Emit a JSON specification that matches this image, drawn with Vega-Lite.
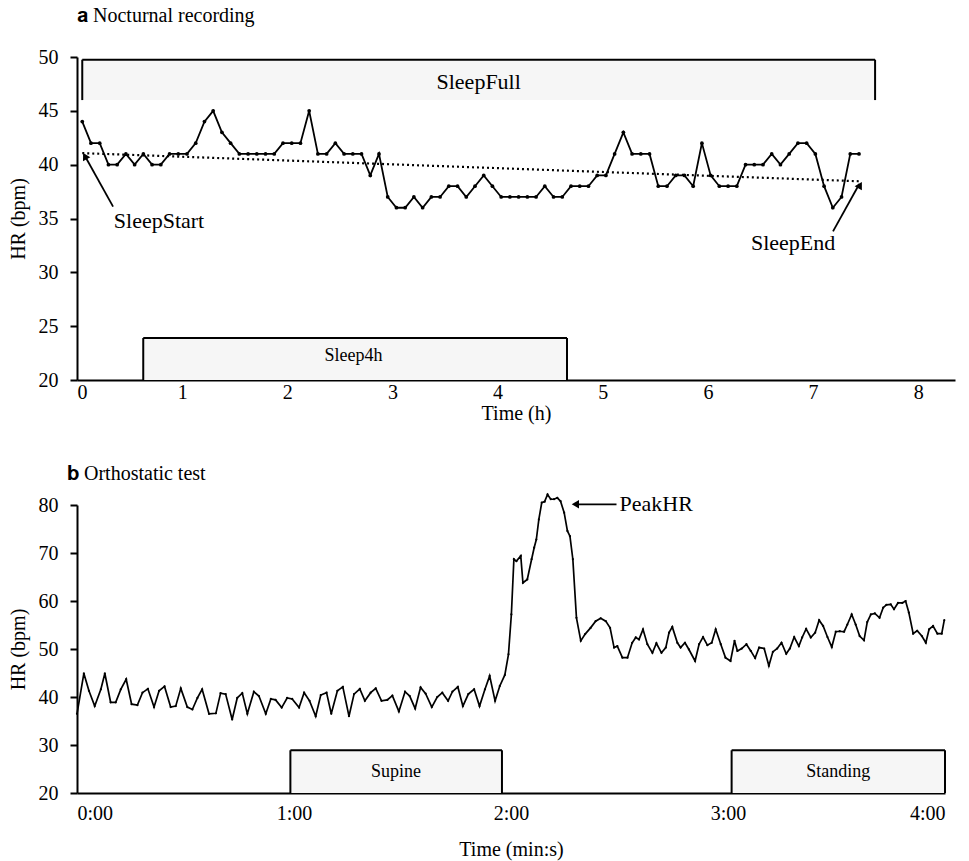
{
  "$schema": "https://vega.github.io/schema/vega-lite/v6.json",
  "background": "white",
  "padding": {"left": 8, "top": 6, "right": 5, "bottom": 5},
  "spacing": 41,
  "config": {
    "font": "Liberation Serif",
    "view": {"stroke": null},
    "axis": {"labelFont": "Liberation Serif", "titleFont": "Liberation Serif", "labelFontSize": 20, "titleFontSize": 20, "titleFontWeight": "normal", "labelColor": "black", "titleColor": "black", "domainColor": "black", "tickColor": "black", "domainWidth": 2, "tickWidth": 2, "grid": false},
    "title": {"font": "Liberation Serif", "fontSize": 20, "fontWeight": "normal", "color": "black", "anchor": "start", "frame": "group"},
    "text": {"font": "Liberation Serif", "fontSize": 20, "color": "black"}
  },
  "datasets": {
    "a_hr": [
      {"t":0.05,"hr":44},{"t":0.133,"hr":42},{"t":0.216,"hr":42},{"t":0.299,"hr":40},{"t":0.382,"hr":40},{"t":0.465,"hr":41},{"t":0.548,"hr":40},{"t":0.631,"hr":41},{"t":0.714,"hr":40},{"t":0.797,"hr":40},
      {"t":0.88,"hr":41},{"t":0.963,"hr":41},{"t":1.046,"hr":41},{"t":1.129,"hr":42},{"t":1.212,"hr":44},{"t":1.295,"hr":45},{"t":1.378,"hr":43},{"t":1.461,"hr":42},{"t":1.544,"hr":41},{"t":1.627,"hr":41},
      {"t":1.71,"hr":41},{"t":1.793,"hr":41},{"t":1.876,"hr":41},{"t":1.959,"hr":42},{"t":2.042,"hr":42},{"t":2.125,"hr":42},{"t":2.208,"hr":45},{"t":2.291,"hr":41},{"t":2.374,"hr":41},{"t":2.457,"hr":42},
      {"t":2.54,"hr":41},{"t":2.623,"hr":41},{"t":2.706,"hr":41},{"t":2.789,"hr":39},{"t":2.872,"hr":41},{"t":2.955,"hr":37},{"t":3.038,"hr":36},{"t":3.121,"hr":36},{"t":3.204,"hr":37},{"t":3.287,"hr":36},
      {"t":3.37,"hr":37},{"t":3.453,"hr":37},{"t":3.536,"hr":38},{"t":3.619,"hr":38},{"t":3.702,"hr":37},{"t":3.785,"hr":38},{"t":3.868,"hr":39},{"t":3.951,"hr":38},{"t":4.034,"hr":37},{"t":4.117,"hr":37},
      {"t":4.2,"hr":37},{"t":4.283,"hr":37},{"t":4.366,"hr":37},{"t":4.449,"hr":38},{"t":4.532,"hr":37},{"t":4.615,"hr":37},{"t":4.698,"hr":38},{"t":4.781,"hr":38},{"t":4.864,"hr":38},{"t":4.947,"hr":39},
      {"t":5.03,"hr":39},{"t":5.113,"hr":41},{"t":5.196,"hr":43},{"t":5.279,"hr":41},{"t":5.362,"hr":41},{"t":5.445,"hr":41},{"t":5.528,"hr":38},{"t":5.611,"hr":38},{"t":5.694,"hr":39},{"t":5.777,"hr":39},
      {"t":5.86,"hr":38},{"t":5.943,"hr":42},{"t":6.026,"hr":39},{"t":6.109,"hr":38},{"t":6.192,"hr":38},{"t":6.275,"hr":38},{"t":6.358,"hr":40},{"t":6.441,"hr":40},{"t":6.524,"hr":40},{"t":6.607,"hr":41},
      {"t":6.69,"hr":40},{"t":6.773,"hr":41},{"t":6.856,"hr":42},{"t":6.939,"hr":42},{"t":7.022,"hr":41},{"t":7.105,"hr":38},{"t":7.188,"hr":36},{"t":7.271,"hr":37},{"t":7.354,"hr":41},{"t":7.437,"hr":41}
    ],
    "a_box": [
      {"t":0.05,"t2":7.59,"hr":46,"hr2":49.75},
      {"t":0.63,"t2":4.66,"hr":20,"hr2":23.9}
    ],
    "a_edge": [
      {"t":0.05,"hr":46,"t2":0.05,"hr2":49.75},
      {"t":0.05,"hr":49.75,"t2":7.59,"hr2":49.75},
      {"t":7.59,"hr":46,"t2":7.59,"hr2":49.75},
      {"t":0.63,"hr":20,"t2":0.63,"hr2":23.9},
      {"t":0.63,"hr":23.9,"t2":4.66,"hr2":23.9},
      {"t":4.66,"hr":20,"t2":4.66,"hr2":23.9}
    ],
    "a_text_big": [
      {"t":3.82,"hr":47.7,"label":"SleepFull"},
      {"t":0.78,"hr":34.8,"label":"SleepStart"},
      {"t":6.81,"hr":32.75,"label":"SleepEnd"}
    ],
    "a_text_small": [
      {"t":2.63,"hr":22.2,"label":"Sleep4h"}
    ],
    "a_arrow": [
      {"t":0.343,"hr":36.1,"t2":0.07,"hr2":40.9},
      {"t":7.19,"hr":33.8,"t2":7.44,"hr2":38.2}
    ],
    "a_head": [
      {"t":0.075,"hr":40.8,"ang":331},
      {"t":7.447,"hr":38.1,"ang":30}
    ],
    "b_hr": [
      {"t":0,"hr":36.5},{"t":1.9,"hr":44.9},{"t":3.3,"hr":41.3},{"t":4.9,"hr":38.1},{"t":6.6,"hr":41.6},{"t":7.7,"hr":44.9},{"t":9.3,"hr":38.9},{"t":10.7,"hr":38.9},{"t":12.1,"hr":41.6},{"t":13.6,"hr":43.7},
      {"t":15.1,"hr":38.5},{"t":16.7,"hr":38.3},{"t":18.1,"hr":40.9},{"t":19.6,"hr":41.7},{"t":21.3,"hr":37.9},{"t":22.7,"hr":41.3},{"t":24.2,"hr":42.2},{"t":25.9,"hr":37.9},{"t":27.3,"hr":38.1},{"t":28.7,"hr":41.8},
      {"t":30.5,"hr":37.9},{"t":31.9,"hr":37.4},{"t":33.3,"hr":39.8},{"t":34.6,"hr":41.6},{"t":36.5,"hr":36.5},{"t":38.4,"hr":36.6},{"t":39.7,"hr":40.8},{"t":41.1,"hr":40.6},{"t":42.9,"hr":35.3},{"t":44.3,"hr":39.8},
      {"t":45.7,"hr":40.8},{"t":47.1,"hr":36.5},{"t":48.9,"hr":41.1},{"t":50.3,"hr":40.2},{"t":52.2,"hr":36.5},{"t":53.6,"hr":39.6},{"t":54.9,"hr":39.4},{"t":56.6,"hr":37.8},{"t":58.1,"hr":39.8},{"t":59.5,"hr":39.6},
      {"t":61.4,"hr":37.8},{"t":62.8,"hr":40.9},{"t":64.3,"hr":39.2},{"t":66,"hr":36},{"t":67.4,"hr":40.4},{"t":69,"hr":40.9},{"t":70.3,"hr":36.5},{"t":72,"hr":41.3},{"t":73.5,"hr":42.1},{"t":75.2,"hr":36},
      {"t":76.6,"hr":40.6},{"t":78.2,"hr":41.7},{"t":79.6,"hr":39.2},{"t":81.2,"hr":40.9},{"t":82.6,"hr":41.8},{"t":84.2,"hr":39.2},{"t":85.8,"hr":39.4},{"t":87.2,"hr":40.3},{"t":89,"hr":37},{"t":90.7,"hr":41.1},
      {"t":92,"hr":40.2},{"t":93.5,"hr":37.6},{"t":95,"hr":42},{"t":96.4,"hr":40.7},{"t":98.1,"hr":37.9},{"t":99.6,"hr":40},{"t":101,"hr":40.9},{"t":102.6,"hr":39.2},{"t":103.8,"hr":41.1},{"t":105.3,"hr":42.1},
      {"t":106.7,"hr":38.1},{"t":108.2,"hr":40.6},{"t":109.8,"hr":41.6},{"t":111.3,"hr":38.1},{"t":112.8,"hr":41.6},{"t":114.1,"hr":44.4},{"t":115.6,"hr":39.2},{"t":116.9,"hr":42.3},{"t":118.3,"hr":44.6},{"t":119.3,"hr":48.9},
      {"t":120.1,"hr":57.2},{"t":120.8,"hr":68.7},{"t":121.5,"hr":68.3},{"t":122.7,"hr":69.4},{"t":123.3,"hr":63.8},{"t":124.5,"hr":64.5},{"t":125.7,"hr":68.7},{"t":126.4,"hr":71.1},{"t":127,"hr":72.8},{"t":127.7,"hr":77},
      {"t":128.5,"hr":80.5},{"t":129.3,"hr":80.7},{"t":130.1,"hr":82.2},{"t":131,"hr":81.2},{"t":131.9,"hr":81.2},{"t":132.8,"hr":81.5},{"t":133.7,"hr":80.8},{"t":134.7,"hr":78.4},{"t":135.6,"hr":74.6},{"t":136.3,"hr":73.5},
      {"t":137.1,"hr":68.7},{"t":138.1,"hr":56.5},{"t":139.3,"hr":51.7},{"t":140.5,"hr":53.1},{"t":142,"hr":54.4},{"t":143.4,"hr":55.8},{"t":144.8,"hr":56.4},{"t":146.2,"hr":55.8},{"t":147.4,"hr":54.4},{"t":148.5,"hr":50.3},
      {"t":149.4,"hr":50.6},{"t":150.8,"hr":48.2},{"t":152.2,"hr":48.2},{"t":153.5,"hr":51.3},{"t":154.5,"hr":52.4},{"t":155.4,"hr":52},{"t":156.5,"hr":54.1},{"t":157.7,"hr":51},{"t":159.1,"hr":49.2},{"t":160.2,"hr":51.2},
      {"t":161.6,"hr":49.2},{"t":162.8,"hr":50.3},{"t":163.7,"hr":53.4},{"t":164.6,"hr":54.6},{"t":166,"hr":51.3},{"t":166.9,"hr":50.3},{"t":168.1,"hr":51.3},{"t":169.2,"hr":49.9},{"t":170.9,"hr":47.5},{"t":172,"hr":51},
      {"t":173.1,"hr":52.5},{"t":174.3,"hr":50.8},{"t":175.5,"hr":51.3},{"t":176.6,"hr":54.1},{"t":178,"hr":51},{"t":179.3,"hr":48.2},{"t":180.7,"hr":47.5},{"t":181.8,"hr":51.7},{"t":182.6,"hr":49.6},{"t":183.8,"hr":50.1},
      {"t":185.1,"hr":51},{"t":186.3,"hr":49.6},{"t":187.5,"hr":48.1},{"t":188.6,"hr":50.3},{"t":190,"hr":50.1},{"t":191.3,"hr":46.5},{"t":192.4,"hr":49.4},{"t":193.6,"hr":50.1},{"t":194.8,"hr":51.3},{"t":196.1,"hr":49},
      {"t":197.1,"hr":50.1},{"t":198.3,"hr":52.5},{"t":199.6,"hr":50.6},{"t":200.5,"hr":52.4},{"t":201.6,"hr":54.2},{"t":202.9,"hr":52.4},{"t":204.1,"hr":53.4},{"t":205.2,"hr":56},{"t":206.3,"hr":54.8},{"t":207.5,"hr":52.5},
      {"t":208.7,"hr":50.4},{"t":209.8,"hr":53.6},{"t":210.9,"hr":53.7},{"t":212.1,"hr":53.6},{"t":213,"hr":55.1},{"t":214.2,"hr":57.2},{"t":215.3,"hr":55.1},{"t":216.4,"hr":52.7},{"t":217.6,"hr":51.8},{"t":218.5,"hr":55.6},
      {"t":219.5,"hr":57.2},{"t":220.6,"hr":57.4},{"t":221.9,"hr":56.5},{"t":222.9,"hr":58.6},{"t":223.8,"hr":59.2},{"t":225,"hr":59.3},{"t":225.9,"hr":58.3},{"t":227,"hr":59.6},{"t":228.2,"hr":59.6},{"t":229.1,"hr":60},
      {"t":230,"hr":57.6},{"t":231.2,"hr":53.2},{"t":232.3,"hr":53.8},{"t":233.6,"hr":52.7},{"t":234.7,"hr":51.3},{"t":235.6,"hr":54.1},{"t":236.7,"hr":54.8},{"t":237.9,"hr":53.2},{"t":239.1,"hr":53.2},{"t":239.8,"hr":56}
    ],
    "b_box": [
      {"t":59,"t2":117.5,"hr":20,"hr2":28.9},
      {"t":181,"t2":240,"hr":20,"hr2":28.9}
    ],
    "b_edge": [
      {"t":59,"hr":20,"t2":59,"hr2":28.9},
      {"t":59,"hr":28.9,"t2":117.5,"hr2":28.9},
      {"t":117.5,"hr":20,"t2":117.5,"hr2":28.9},
      {"t":181,"hr":20,"t2":181,"hr2":28.9},
      {"t":181,"hr":28.9,"t2":240,"hr2":28.9},
      {"t":240,"hr":20,"t2":240,"hr2":28.9}
    ],
    "b_text": [
      {"t":88.2,"hr":24.4,"label":"Supine"},
      {"t":210.5,"hr":24.4,"label":"Standing"}
    ],
    "b_peak": [
      {"t":150,"hr":80.15,"label":"PeakHR","t2":137.8,"hr2":80.15}
    ]
  },
  "vconcat": [
    {
      "width": 878,
      "height": 323,
      "title": {"text": "𝐚 Nocturnal recording", "offset": 21},
      "encoding": {
        "x": {"field": "t", "type": "quantitative", "scale": {"domain": [0, 8.35], "nice": false, "zero": false},
              "axis": {"title": "Time (h)", "values": [0,1,2,3,4,5,6,7,8], "ticks": false, "labelPadding": 2, "titlePadding": 1, "domainWidth": 2}},
        "y": {"field": "hr", "type": "quantitative", "scale": {"domain": [20, 50], "nice": false, "zero": false},
              "axis": {"title": "HR (bpm)", "values": [20,25,30,35,40,45,50], "tickSize": 7, "labelPadding": 12, "titlePadding": 10}}
      },
      "layer": [
        {"data": {"name": "a_box"}, "mark": {"type": "rect", "fill": "#f6f6f6", "stroke": null},
         "encoding": {"x2": {"field": "t2"}, "y2": {"field": "hr2"}}},
        {"data": {"name": "a_edge"}, "mark": {"type": "rule", "color": "black", "strokeWidth": 2},
         "encoding": {"x2": {"field": "t2"}, "y2": {"field": "hr2"}}},
        {"data": {"name": "a_text_big"}, "mark": {"type": "text", "align": "center", "baseline": "middle", "font": "Liberation Serif", "fontSize": 22},
         "encoding": {"text": {"field": "label"}}},
        {"data": {"name": "a_text_small"}, "mark": {"type": "text", "align": "center", "baseline": "middle", "font": "Liberation Serif", "fontSize": 18},
         "encoding": {"text": {"field": "label"}}},
        {"data": {"name": "a_hr"}, "transform": [{"regression": "hr", "on": "t"}],
         "mark": {"type": "line", "color": "black", "strokeWidth": 2.2, "strokeDash": [2, 3]}},
        {"data": {"name": "a_hr"}, "mark": {"type": "line", "color": "black", "strokeWidth": 1.8, "point": {"filled": true, "color": "black", "size": 14}}},
        {"data": {"name": "a_arrow"}, "mark": {"type": "rule", "color": "black", "strokeWidth": 1.8},
         "encoding": {"x2": {"field": "t2"}, "y2": {"field": "hr2"}}},
        {"data": {"name": "a_head"}, "mark": {"type": "point", "shape": "triangle-up", "filled": true, "color": "black", "size": 70, "opacity": 1},
         "encoding": {"angle": {"field": "ang", "type": "quantitative", "scale": null}}}
      ]
    },
    {
      "width": 868,
      "height": 288,
      "title": {"text": "𝐛 Orthostatic test", "offset": 7, "dx": -10},
      "encoding": {
        "x": {"field": "t", "type": "quantitative", "scale": {"domain": [0, 240], "nice": false, "zero": false},
              "axis": {"title": "Time (min:s)", "values": [0,60,120,180,240], "labelExpr": "floor(datum.value/60) + ':00'", "ticks": false, "labelPadding": 10, "titlePadding": 16, "domainWidth": 2}},
        "y": {"field": "hr", "type": "quantitative", "scale": {"domain": [20, 80], "nice": false, "zero": false},
              "axis": {"title": "HR (bpm)", "values": [20,30,40,50,60,70,80], "tickSize": 7, "labelPadding": 12, "titlePadding": 10}}
      },
      "layer": [
        {"data": {"name": "b_box"}, "mark": {"type": "rect", "fill": "#f6f6f6", "stroke": null},
         "encoding": {"x2": {"field": "t2"}, "y2": {"field": "hr2"}}},
        {"data": {"name": "b_edge"}, "mark": {"type": "rule", "color": "black", "strokeWidth": 2},
         "encoding": {"x2": {"field": "t2"}, "y2": {"field": "hr2"}}},
        {"data": {"name": "b_text"}, "mark": {"type": "text", "align": "center", "baseline": "middle", "font": "Liberation Serif", "fontSize": 18},
         "encoding": {"text": {"field": "label"}}},
        {"data": {"name": "b_hr"}, "mark": {"type": "line", "color": "black", "strokeWidth": 1.7, "point": {"filled": true, "color": "black", "size": 5}}},
        {"data": {"name": "b_peak"}, "mark": {"type": "text", "align": "left", "baseline": "middle", "font": "Liberation Serif", "fontSize": 22},
         "encoding": {"text": {"field": "label"}}},
        {"data": {"name": "b_peak"}, "mark": {"type": "rule", "color": "black", "strokeWidth": 1.8},
         "encoding": {"x2": {"field": "t2"}, "y2": {"field": "hr2"}, "xOffset": {"value": -3}}},
        {"data": {"name": "b_peak"}, "mark": {"type": "point", "shape": "triangle-left", "filled": true, "color": "black", "size": 70, "opacity": 1},
         "encoding": {"x": {"field": "t2", "type": "quantitative"}}}
      ]
    }
  ]
}
